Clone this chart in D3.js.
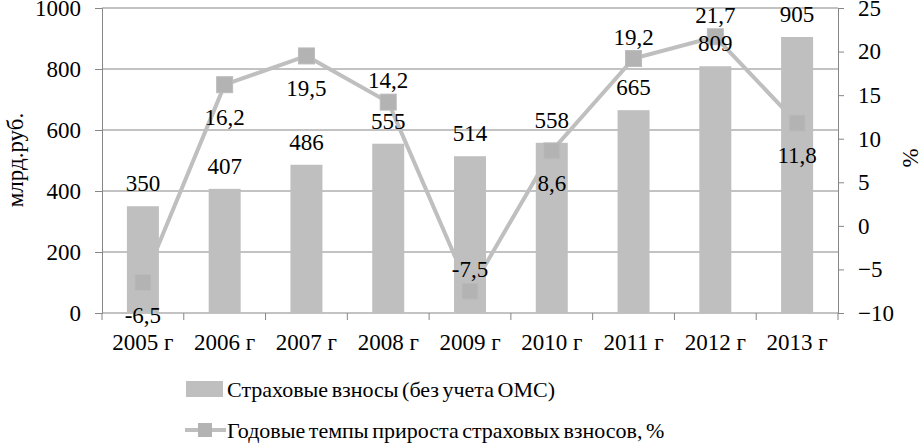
<!DOCTYPE html>
<html><head><meta charset="utf-8">
<script src="https://cdn.jsdelivr.net/npm/d3@7"></script>
<style>body{margin:0;background:#fff}svg{display:block}svg text{font-family:"Liberation Serif","Times New Roman",serif !important;fill:#000}</style>
</head><body><svg id="c" width="923" height="443"></svg>
<script>
const years = ["2005 г","2006 г","2007 г","2008 г","2009 г","2010 г","2011 г","2012 г","2013 г"];
const contributions = [350,407,486,555,514,558,665,809,905];
const growth = [-6.5,16.2,19.5,14.2,-7.5,8.6,19.2,21.7,11.8];
const growthLabelPos = ["below","below","below","above","above","below","above","above","below"];
const leftTicks = [0,200,400,600,800,1000];
const rightTicks = [-10,-5,0,5,10,15,20,25];
const seriesNames = ["Страховые взносы (без учета ОМС)","Годовые темпы прироста страховых взносов, %"];

const svg = d3.select("#c");
const L=102,R=838,T=8,B=313;
const FS=23;
const x = d3.scaleBand().domain(years).range([L,R]).paddingInner(0).paddingOuter(0);
const yL = d3.scaleLinear().domain([0,1000]).range([B,T]);
const yR = d3.scaleLinear().domain([-10,25]).range([B,T]);
const fmt = v => String(v).replace(".",",");
const axisCol="#868686", barCol="#bfbfbf", lineCol="#bfbfbf", markCol="#b3b3b3";

// gridlines
svg.append("g").selectAll("line").data(leftTicks.filter(d=>d>0)).join("line")
  .attr("x1",L).attr("x2",R).attr("y1",d=>yL(d)).attr("y2",d=>yL(d))
  .attr("stroke",axisCol).attr("stroke-width",1);

// left axis
const gl = svg.append("g").attr("transform",`translate(${L},0)`)
  .call(d3.axisLeft(yL).tickValues(leftTicks).tickFormat(d3.format("d")).tickSize(7).tickPadding(14));
gl.select(".domain").attr("stroke",axisCol);
gl.selectAll(".tick line").attr("stroke",axisCol);
gl.selectAll(".tick text").attr("font-size",FS).attr("fill","#000");

// right axis
const gr = svg.append("g").attr("transform",`translate(${R},0)`)
  .call(d3.axisRight(yR).tickValues(rightTicks).tickFormat(d3.format("d")).tickSize(6).tickPadding(14));
gr.select(".domain").attr("stroke",axisCol);
gr.selectAll(".tick line").attr("stroke",axisCol);
gr.selectAll(".tick text").attr("font-size",FS).attr("fill","#000");

// bottom axis
svg.append("line").attr("x1",L).attr("x2",R).attr("y1",B).attr("y2",B).attr("stroke",axisCol);
const bounds = years.map(d=>x(d)).concat([R]);
svg.append("g").selectAll("line").data(bounds).join("line")
  .attr("x1",d=>d).attr("x2",d=>d).attr("y1",B).attr("y2",B+7).attr("stroke",axisCol);
svg.append("g").selectAll("text").data(years).join("text")
  .attr("x",d=>x(d)+x.bandwidth()/2).attr("y",B+37).attr("text-anchor","middle")
  .attr("font-size",FS).text(d=>d);

// axis titles
svg.append("text").attr("transform","translate(23,160) rotate(-90)").attr("text-anchor","middle")
  .attr("font-size",FS).text("млрд.руб.");
svg.append("text").attr("transform","translate(918,158) rotate(-90)").attr("text-anchor","middle")
  .attr("font-size",FS).text("%");

// bars
const bw = 32;
svg.append("g").selectAll("rect").data(years).join("rect")
  .attr("x",d=>x(d)+x.bandwidth()/2-bw/2).attr("width",bw)
  .attr("y",(d,i)=>yL(contributions[i])).attr("height",(d,i)=>B-yL(contributions[i]))
  .attr("fill",barCol);

// line
const cx = d=>x(d)+x.bandwidth()/2;
svg.append("path").datum(years).attr("fill","none").attr("stroke",lineCol).attr("stroke-width",4)
  .attr("d",d3.line().x(d=>cx(d)).y((d,i)=>yR(growth[i])));
svg.append("g").selectAll("rect").data(years).join("rect")
  .attr("x",d=>cx(d)-8).attr("y",(d,i)=>yR(growth[i])-8).attr("width",16).attr("height",16)
  .attr("fill",markCol).attr("stroke","#bcbcbc").attr("stroke-width",1);

// bar labels
svg.append("g").selectAll("text").data(years).join("text")
  .attr("x",cx).attr("y",(d,i)=>yL(contributions[i])-15).attr("text-anchor","middle")
  .attr("font-size",FS).text((d,i)=>contributions[i]);

// line labels
svg.append("g").selectAll("text").data(years).join("text")
  .attr("x",cx).attr("y",(d,i)=>yR(growth[i]) + (growthLabelPos[i]==="below"?40:-14))
  .attr("text-anchor","middle").attr("font-size",FS).text((d,i)=>fmt(growth[i]));

// legend
const lg = svg.append("g");
lg.append("rect").attr("x",186).attr("y",381).attr("width",37).attr("height",16).attr("fill",barCol);
lg.append("text").attr("x",227).attr("y",397).attr("font-size",22).attr("word-spacing",-2).text(seriesNames[0]);
lg.append("line").attr("x1",185).attr("x2",226).attr("y1",430).attr("y2",430).attr("stroke",lineCol).attr("stroke-width",4);
lg.append("rect").attr("x",198).attr("y",423).attr("width",14).attr("height",14).attr("fill",markCol);
lg.append("text").attr("x",227).attr("y",438).attr("font-size",22).attr("word-spacing",-2).text(seriesNames[1]);
</script></body></html>
